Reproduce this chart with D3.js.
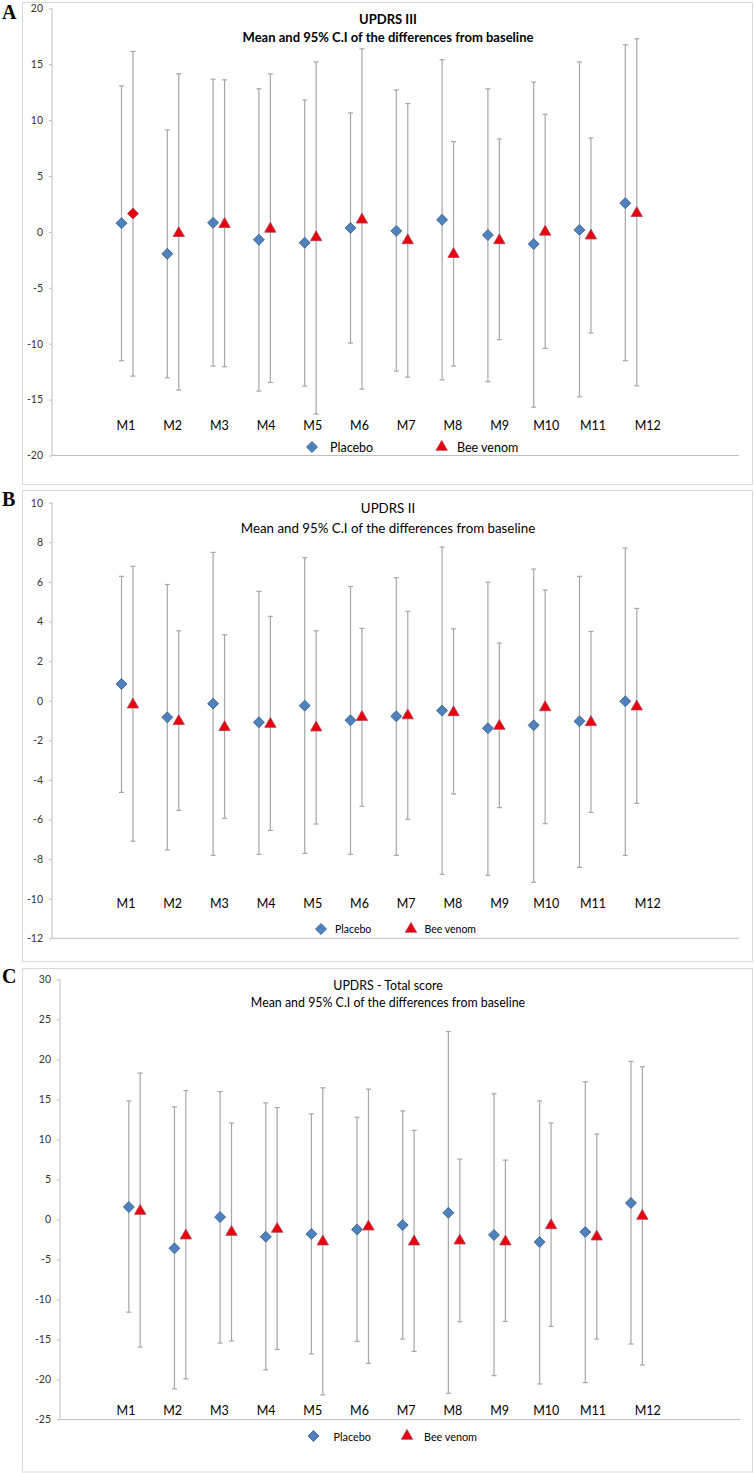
<!DOCTYPE html>
<html>
<head>
<meta charset="utf-8">
<script src="https://cdn.jsdelivr.net/npm/d3@7"></script>
<style>
body{margin:0;background:#fff;}
svg{display:block;font-family:Lato,"Open Sans",sans-serif;}
</style>
</head>
<body>
<svg id="fig" width="754" height="1473"></svg>
<script>
const months = ["M1","M2","M3","M4","M5","M6","M7","M8","M9","M10","M11","M12"];
const seriesNames = ["Placebo","Bee venom"];

// A - UPDRS III
const aPlaceboMean = [0.78,-1.96,0.81,-0.7,-0.97,0.36,0.09,1.08,-0.28,-1.09,0.18,2.57];
const aPlaceboLow  = [-11.52,-13.05,-12.0,-14.24,-13.8,-9.94,-12.45,-13.23,-13.4,-15.68,-14.75,-11.52];
const aPlaceboHigh = [13.06,9.12,13.66,12.8,11.8,10.64,12.7,15.4,12.8,13.4,15.2,16.74];
const aBeeMean = [1.64,-0.12,0.69,0.27,-0.49,1.08,-0.76,-1.99,-0.76,0.0,-0.34,1.67];
const aBeeLow  = [-12.9,-14.15,-12.06,-13.47,-16.3,-14.06,-12.99,-12.0,-9.64,-10.42,-9.04,-13.77];
const aBeeHigh = [16.14,14.14,13.6,14.14,15.2,16.38,11.48,8.07,8.31,10.52,8.4,17.28];

// B - UPDRS II
const bPlaceboMean = [0.84,-0.84,-0.15,-1.09,-0.25,-0.99,-0.79,-0.5,-1.39,-1.24,-1.04,-0.03];
const bPlaceboLow  = [-4.63,-7.54,-7.81,-7.76,-7.71,-7.76,-7.81,-8.77,-8.82,-9.17,-8.42,-7.81];
const bPlaceboHigh = [6.28,5.87,7.49,5.52,7.22,5.77,6.21,7.76,5.99,6.65,6.28,7.71];
const bBeeMean = [-0.2,-1.04,-1.34,-1.18,-1.36,-0.83,-0.75,-0.59,-1.28,-0.34,-1.09,-0.3];
const bBeeLow  = [-7.1,-5.54,-5.94,-6.55,-6.23,-5.33,-5.99,-4.71,-5.4,-6.21,-5.64,-5.18];
const bBeeHigh = [6.79,3.53,3.33,4.26,3.53,3.65,4.51,3.63,2.91,5.59,3.5,4.66];

// C - UPDRS total
const cPlaceboMean = [1.55,-3.61,0.29,-2.16,-1.83,-1.25,-0.71,0.83,-1.95,-2.82,-1.58,2.05];
const cPlaceboLow  = [-11.59,-21.18,-15.45,-18.81,-16.82,-15.24,-14.95,-21.72,-19.52,-20.56,-20.39,-15.57];
const cPlaceboHigh = [14.81,14.06,15.98,14.56,13.18,12.76,13.56,23.47,15.69,14.81,17.2,19.75];
const cBeeMean = [1.04,-2.03,-1.58,-1.2,-2.78,-0.91,-2.78,-2.66,-2.78,-0.75,-2.16,0.42];
const cBeeLow  = [-15.95,-19.93,-15.2,-16.24,-21.93,-17.98,-16.49,-12.79,-12.75,-13.37,-14.95,-18.19];
const cBeeHigh = [18.28,16.1,12.05,13.97,16.44,16.28,11.13,7.53,7.41,12.05,10.67,19.08];

const aTicks = [-20,-15,-10,-5,0,5,10,15,20];
const bTicks = [-12,-10,-8,-6,-4,-2,0,2,4,6,8,10];
const cTicks = [-25,-20,-15,-10,-5,0,5,10,15,20,25,30];

const panels = [
  {letter:"A", letterY:19, title:["UPDRS III","Mean and 95% C.I of the differences from baseline"], bold:true,
   ticks:aTicks, pm:aPlaceboMean, pl:aPlaceboLow, ph:aPlaceboHigh, bm:aBeeMean, bl:aBeeLow, bh:aBeeHigh,
   box:[22.5,2.5,730,482], axisX:52, yTop:8.3, yBot:455.5, xEnd:739, firstX:121.5, step:45.8,
   titleY:[19,37], titleSize:13, labelY:425, legY:447, leg:[312,330,441.7,457], legSize:12.5,
   beeDiamond:[0]},
  {letter:"B", letterY:506, title:["UPDRS II","Mean and 95% C.I of the differences from baseline"], bold:false,
   ticks:bTicks, pm:bPlaceboMean, pl:bPlaceboLow, ph:bPlaceboHigh, bm:bBeeMean, bl:bBeeLow, bh:bBeeHigh,
   box:[22.5,490.5,730,471], axisX:52, yTop:502.7, yBot:938.3, xEnd:739, firstX:121.5, step:45.8,
   titleY:[508,527.7], titleSize:13.3, labelY:903, legY:929, leg:[321,335,411,424.5], legSize:10.5,
   beeDiamond:[]},
  {letter:"C", letterY:983, title:["UPDRS - Total score","Mean and 95% C.I of the differences from baseline"], bold:false,
   ticks:cTicks, pm:cPlaceboMean, pl:cPlaceboLow, ph:cPlaceboHigh, bm:cBeeMean, bl:cBeeLow, bh:cBeeHigh,
   box:[22.5,968.5,730,503.5], axisX:60, yTop:979.3, yBot:1419.5, xEnd:740, firstX:128.8, step:45.65,
   titleY:[985.7,1002.7], titleSize:12.4, labelY:1410, legY:1436, leg:[313.5,333.6,407,424], legSize:10.8,
   beeDiamond:[]}
];

const svg = d3.select("#fig");
const gridCol = "#d9d9d9", axisCol = "#bfbfbf", barCol = "#a6a6a6", textCol = "#333";
const blue = "#4f81bd", blueEdge = "#385d8a", red = "#e8000f", redEdge = "#b04050";

// category labels sit at the same place in every panel
const labelX = d3.scaleLinear().domain([1,11]).range([126,593]);

const diamond = d3.symbol().type(d3.symbolSquare).size(60);
const triangle = d3.symbol().type(d3.symbolTriangle).size(56);

panels.forEach(p=>{
  const g = svg.append("g");
  const [bx,by,bw,bh] = p.box;
  g.append("rect").attr("x",bx).attr("y",by).attr("width",bw).attr("height",bh)
    .attr("fill","#fff").attr("stroke",gridCol).attr("stroke-width",1);

  svg.append("text").attr("x",2).attr("y",p.letterY)
    .attr("font-family","'Liberation Serif','Times New Roman',serif")
    .attr("font-weight","bold").attr("font-size",20).attr("fill","#000").text(p.letter);

  const y = d3.scaleLinear().domain(d3.extent(p.ticks)).range([p.yBot,p.yTop]);
  const x = d3.scaleLinear().domain([1,12]).range([p.firstX,p.firstX+11*p.step]);

  // y axis
  const ax = g.append("g").attr("transform","translate("+p.axisX+",0)")
    .call(d3.axisLeft(y).tickValues(p.ticks).tickSize(3).tickPadding(6).tickFormat(d3.format("d")));
  ax.select(".domain").attr("stroke",axisCol).attr("d","M0,"+p.yTop+"V"+p.yBot);
  ax.selectAll(".tick line").attr("stroke",axisCol);
  ax.selectAll(".tick text").attr("fill",textCol).attr("font-size",10.5)
    .attr("font-family","Lato,'Open Sans',sans-serif").text(d=>d<0 ? "-"+Math.abs(d) : d);

  // x baseline
  g.append("line").attr("x1",p.axisX).attr("x2",p.xEnd).attr("y1",p.yBot).attr("y2",p.yBot)
    .attr("stroke",axisCol).attr("stroke-width",1);

  // titles
  p.title.forEach((t,i)=>{
    g.append("text").attr("x",388).attr("y",p.titleY[i]).attr("text-anchor","middle")
      .attr("dominant-baseline","central").attr("font-size",p.titleSize)
      .attr("font-weight",p.bold?"bold":"normal").attr("fill","#000").text(t);
  });

  // category labels
  months.forEach((m,i)=>{
    g.append("text").attr("x",labelX(i+1)+(i===11?8:0)).attr("y",p.labelY)
      .attr("text-anchor","middle").attr("dominant-baseline","central")
      .attr("font-size",12.5).attr("fill","#000").text(m);
  });

  const rows = [];
  months.forEach((m,i)=>{
    rows.push({s:0,xv:i+1,mean:p.pm[i],lo:p.pl[i],hi:p.ph[i],shape:"diamond"});
    rows.push({s:1,xv:i+1.25,mean:p.bm[i],lo:p.bl[i],hi:p.bh[i],
      shape:p.beeDiamond.includes(i)?"diamond":"triangle"});
  });

  // error bars
  const eb = g.append("g").attr("stroke",barCol).attr("stroke-width",1.2);
  eb.selectAll("line.v").data(rows).enter().append("line")
    .attr("x1",d=>x(d.xv)).attr("x2",d=>x(d.xv)).attr("y1",d=>y(d.hi)).attr("y2",d=>y(d.lo));
  eb.selectAll("line.ct").data(rows).enter().append("line")
    .attr("x1",d=>x(d.xv)-2.5).attr("x2",d=>x(d.xv)+2.5).attr("y1",d=>y(d.hi)).attr("y2",d=>y(d.hi));
  eb.selectAll("line.cb").data(rows).enter().append("line")
    .attr("x1",d=>x(d.xv)-2.5).attr("x2",d=>x(d.xv)+2.5).attr("y1",d=>y(d.lo)).attr("y2",d=>y(d.lo));

  // markers
  g.selectAll("path.mk").data(rows).enter().append("path")
    .attr("d",d=>d.shape==="diamond" ? diamond() : triangle())
    .attr("transform",d=>"translate("+x(d.xv)+","+y(d.mean)+")"+(d.shape==="diamond"?" rotate(45)":""))
    .attr("fill",d=>d.s===0?blue:red)
    .attr("stroke",d=>d.s===0?blueEdge:redEdge).attr("stroke-width",0.8);

  // legend
  const lg = g.append("g").attr("font-size",p.legSize).attr("fill","#000");
  lg.append("path").attr("d",diamond()).attr("transform","translate("+p.leg[0]+","+p.legY+") rotate(45)")
    .attr("fill",blue).attr("stroke",blueEdge).attr("stroke-width",0.8);
  lg.append("text").attr("x",p.leg[1]).attr("y",p.legY).attr("dominant-baseline","central").text(seriesNames[0]);
  lg.append("path").attr("d",triangle()).attr("transform","translate("+p.leg[2]+","+p.legY+")")
    .attr("fill",red).attr("stroke",redEdge).attr("stroke-width",0.8);
  lg.append("text").attr("x",p.leg[3]).attr("y",p.legY).attr("dominant-baseline","central").text(seriesNames[1]);
});
</script>
</body>
</html>
